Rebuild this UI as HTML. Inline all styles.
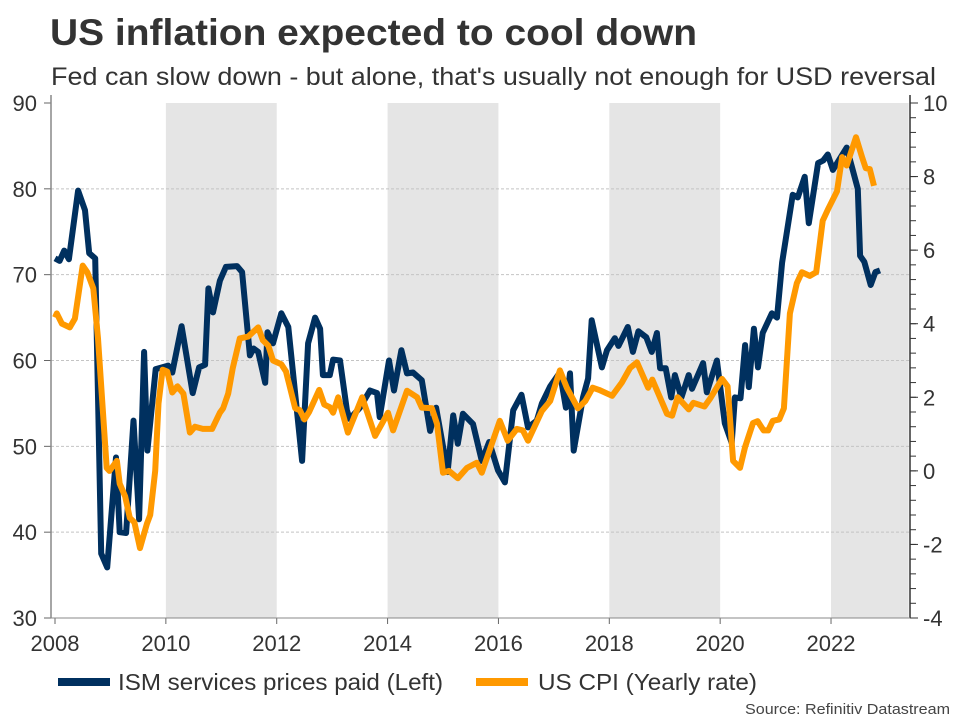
<!DOCTYPE html>
<html><head><meta charset="utf-8"><style>
body{margin:0;background:#fff;width:960px;height:720px;overflow:hidden;font-family:"Liberation Sans",sans-serif}
svg text{font-family:"Liberation Sans",sans-serif}
</style></head><body>
<svg id="chart" width="960" height="720">
<text x="50" y="45" font-size="37" font-weight="bold" fill="#333" textLength="647" lengthAdjust="spacingAndGlyphs">US inflation expected to cool down</text>
<text x="51" y="85" font-size="25" fill="#333" textLength="885" lengthAdjust="spacingAndGlyphs">Fed can slow down - but alone, that's usually not enough for USD reversal</text>
<g id="bands"></g><g id="grid"></g><g id="axes"></g><g id="lines"></g>
<g>
<rect x="58" y="678" width="52" height="8" fill="#00305f"/>
<text x="118" y="690" font-size="23" fill="#333" textLength="325" lengthAdjust="spacingAndGlyphs">ISM services prices paid (Left)</text>
<rect x="476" y="678" width="52" height="8" fill="#ff9900"/>
<text x="538" y="690" font-size="23" fill="#333" textLength="219" lengthAdjust="spacingAndGlyphs">US CPI (Yearly rate)</text>
</g>
<text x="950" y="714" font-size="15" fill="#444" text-anchor="end" textLength="205" lengthAdjust="spacingAndGlyphs">Source: Refinitiv Datastream</text>
</svg>
<script>
const yearTicks=[2008,2010,2012,2014,2016,2018,2020,2022];
const shadedYears=[[2010,2012],[2014,2016],[2018,2020],[2022,2023.4]];
const leftTicks=[30,40,50,60,70,80,90];
const rightTicks=[-4,-2,0,2,4,6,8,10];
const ismMonths=[0,1,2,3,5,6.5,7.4,8.7,10,11.3,13.2,14,15.4,17,18.2,19.3,20,21.8,24.5,25.4,27.4,29.8,31.2,32.5,33.2,34.2,35.7,37,39.4,40.5,42.2,43,44,45.5,46,47.2,49,50.5,53.5,54.8,56.3,57.4,58,59.5,60.2,61.7,63.2,63.8,66,68.2,69.7,70.3,72.3,73.4,75,76.2,77.5,79.4,81.2,82.5,85,86.2,87.2,88.3,90.5,92.4,94,95.9,97.4,99.2,101,102.4,104.3,105.4,107.2,109.3,110.6,111.5,112.3,114.3,115.4,116.2,118.4,119.5,121.2,122,124,125.1,126.3,128,129.2,130.3,131,132.2,133.4,134.2,135.6,137.2,137.9,140.3,141.1,143.3,145,146.5,147.2,148.4,149.4,150.2,151.3,152.2,153.2,155.2,156.3,157.4,159.7,160.8,162.3,163.2,165.2,166.3,167.3,168.4,171.4,172.8,173.8,174.3,175.2,176.6,177.6,178.6];
const ismValues=[71.9,71.6,72.8,71.8,79.8,77.5,72.5,71.9,37.5,35.9,48.7,40,39.9,53,41.5,61,49.5,59,59.4,58.6,64,56.2,59.2,59.5,68.4,65.6,69.3,70.9,71,70.3,60.6,61.4,61,57.4,63.3,62,65.5,63.9,48.3,62,65,63.7,58.3,58.3,60.1,60,54.2,53.2,54.5,56.5,56.2,53.4,60,56.5,61.2,58.5,58.6,57.7,51.8,54.5,47,53.6,50.3,53.8,52.6,48.3,50.5,47.2,45.8,54.2,56,52.2,53,55,57,58.6,54.5,58.5,49.5,55.7,57.9,64.7,59.2,61.2,62.6,61.7,63.9,61,63.4,62.7,61,63.2,59.1,59.1,55.7,58.3,55.7,58.3,56.7,59.7,56.3,60,52.7,50.4,55.7,55.6,61.8,56.9,63.7,59.2,63.2,65.5,65,71.4,79.3,79,81.4,76,83,83.3,84,82.2,84.8,82,80,72.2,71.5,68.8,70.3,70.5];
const cpiMonths=[0,0.4,1.5,3.2,4.3,6,7,8.3,9.3,11.2,11.8,13.4,14,15.2,16.2,17.2,18.4,19.9,20.6,21.7,22.4,23.3,24.3,25.4,26.5,27.8,29.2,30.3,32,34,35.7,36.4,37.5,38.5,40,41.8,44,45,46.2,47.2,49,50,52,53,54,55,57.2,58.3,59.5,60.2,61.3,63.4,66.5,69.3,72.1,73.2,76.2,78.4,79.4,81.6,82.7,84,85.3,87.2,89.2,91.3,92.4,96.3,98,100,101.3,102.4,105.4,107.2,109.3,110.8,113.2,114.8,116.4,117.8,120.6,122.7,124.5,126,128.4,129.3,132.5,133.6,134.8,137.2,138.2,140.6,141.8,144.4,145.6,146.8,148.3,149.4,151.1,152.1,153.4,154.4,155.4,156.8,157.8,159.1,160.6,161.7,163.4,164.8,166.2,167.3,169.3,170.4,171.4,173.4,174.8,175.5,176.4,177.3];
const cpiValues=[4.17,4.28,4.0,3.9,4.14,5.58,5.4,4.96,3.6,0.08,0,0.27,-0.35,-0.7,-1.28,-1.4,-2.1,-1.44,-1.2,0,1.83,2.75,2.7,2.13,2.3,2.1,1.04,1.2,1.14,1.14,1.58,1.7,2.1,2.8,3.6,3.65,3.9,3.55,3.4,3.0,2.9,2.7,1.7,1.65,1.4,1.6,2.2,1.8,1.73,1.58,2.0,1.04,2.0,0.95,1.58,1.1,2.18,2.0,1.72,1.7,1.28,-0.05,0,-0.2,0.08,0.22,-0.05,1.36,0.82,1.14,1.1,0.82,1.63,1.9,2.73,2.26,1.7,1.9,2.26,2.2,2.04,2.4,2.8,2.95,2.26,2.48,1.55,1.5,2.0,1.67,1.85,1.75,1.96,2.5,2.3,0.27,0.08,0.65,1.3,1.35,1.1,1.1,1.36,1.4,1.7,4.28,5.1,5.4,5.3,5.4,6.8,7.1,7.6,8.53,8.3,9.07,8.5,8.23,8.2,7.75];

const NS='http://www.w3.org/2000/svg';
const L=51,R=910,T=103,B=618;
const xYear=y=>55+(y-2008)*55.43;
const xMonth=m=>xYear(2008+m/12);
const yLeft=v=>B-(v-30)*(B-T)/60;
const yRight=v=>B-(v+4)*(B-T)/14;
function mk(tag,attrs,parent){const e=document.createElementNS(NS,tag);for(const k in attrs)e.setAttribute(k,attrs[k]);document.getElementById(parent).appendChild(e);return e;}

shadedYears.forEach(s=>{
 const e=mk('rect',{x:xYear(s[0]),y:T,width:Math.min(xYear(s[1]),R)-xYear(s[0]),height:B-T,fill:'#e5e5e5'},'bands');
 
 
});
leftTicks.forEach(v=>{
 if(v>30&&v<90){const g=mk('line',{x1:L,x2:R,y1:yLeft(v),y2:yLeft(v),stroke:'#c4c4c4','stroke-dasharray':'3,2','stroke-width':1},'grid');
 
 }
 const tk=mk('line',{x1:L-7,x2:L,y1:yLeft(v),y2:yLeft(v),stroke:'#666'},'axes');
 
 
 const t=mk('text',{x:L-14,y:yLeft(v)+8,'font-size':22,fill:'#333','text-anchor':'end'},'axes');
 t.textContent=v;
 
 
});
for(let v=-4;v<=10.01;v+=0.4){
 const tk=mk('line',{x1:R,x2:R+6,y1:yRight(v),y2:yRight(v),stroke:'#333'},'axes');
 
 
}
rightTicks.forEach(v=>{
 const tk=mk('line',{x1:R,x2:R+8,y1:yRight(v),y2:yRight(v),stroke:'#333'},'axes');
 
 
 const t=mk('text',{x:R+13,y:yRight(v)+8,'font-size':22,fill:'#333'},'axes');
 t.textContent=v;
 
 
});
yearTicks.forEach(y=>{
 const tk=mk('line',{x1:xYear(y),x2:xYear(y),y1:B,y2:B+6,stroke:'#666'},'axes');
 
 
 const t=mk('text',{x:xYear(y),y:B+33,'font-size':22,fill:'#333','text-anchor':'middle'},'axes');
 t.textContent=y;
 
 
});
const la=mk('line',{x1:L,x2:L,y1:T-8,y2:B,stroke:'#888','stroke-width':1.5},'axes');


const ra=mk('line',{x1:R,x2:R,y1:T-8,y2:B,stroke:'#333','stroke-width':1.5},'axes');


const ba=mk('line',{x1:L,x2:R,y1:B,y2:B,stroke:'#888','stroke-width':1},'axes');



const cpiPts=cpiMonths.map((m,i)=>xMonth(m).toFixed(1)+','+yRight(cpiValues[i]).toFixed(1)).join(' ');
const cpi=mk('polyline',{points:cpiPts,fill:'none',stroke:'#ff9900','stroke-width':6,'stroke-linejoin':'round'},'lines');


const ismPts=ismMonths.map((m,i)=>xMonth(m).toFixed(1)+','+yLeft(ismValues[i]).toFixed(1)).join(' ');
const ism=mk('polyline',{points:ismPts,fill:'none',stroke:'#00305f','stroke-width':6,'stroke-linejoin':'round'},'lines');


document.getElementById('lines').insertBefore(ism,cpi);
</script>
</body></html>
